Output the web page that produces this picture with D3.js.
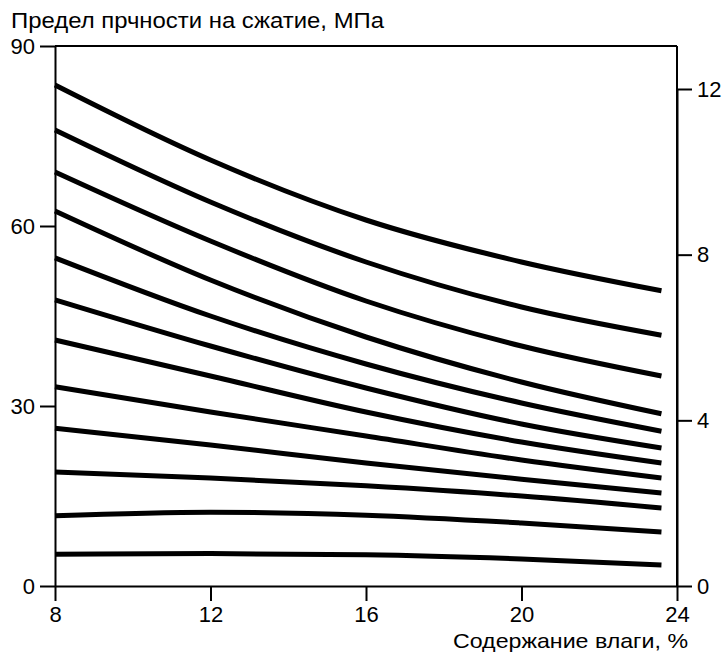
<!DOCTYPE html>
<html><head><meta charset="utf-8">
<script src="https://cdn.jsdelivr.net/npm/d3@7"></script>
<style>body{margin:0;background:#fff}svg{display:block}text{font-family:"Liberation Sans",Arial,sans-serif;fill:#000}</style>
</head><body><svg id="c" width="726" height="654"></svg>
<script>
const moisture = [8, 12, 16, 20, 23.6];
const curve1 = [83.5, 71, 61, 54, 49.2];
const curve2 = [76, 64, 54, 46.5, 41.8];
const curve3 = [69, 57.5, 47.5, 40, 35];
const curve4 = [62.5, 51, 41.5, 34, 28.7];
const curve5 = [54.7, 45, 37, 30.5, 25.8];
const curve6 = [47.7, 40, 33, 27, 23];
const curve7 = [41, 35, 29, 24, 20.5];
const curve8 = [33.2, 29, 25, 21, 18];
const curve9 = [26.3, 23.5, 20.5, 17.8, 15.5];
const curve10 = [19, 18, 16.7, 15, 13];
const curve11 = [11.7, 12.3, 11.8, 10.5, 9];
const curve12 = [5.3, 5.4, 5.2, 4.5, 3.5];
const series = [curve1, curve2, curve3, curve4, curve5, curve6, curve7, curve8, curve9, curve10, curve11, curve12];
const xTicks = [8, 12, 16, 20, 24];
const yTicksLeft = [0, 30, 60, 90];
const yTicksRight = [0, 4, 8, 12];
const titleText = "Предел прчности на сжатие, МПа";
const xLabel = "Содержание влаги, %";

const svg = d3.select("#c");
const x = d3.scaleLinear().domain([8, 24]).range([55, 677]);
const y = d3.scaleLinear().domain([0, 90]).range([586, 46]);
const yR = d3.scaleLinear().domain([0, 12]).range([586, 89]);

const line = d3.line().x((d, i) => x(moisture[i])).y(d => y(d)).curve(d3.curveMonotoneX);
svg.append("g").selectAll("path").data(series).join("path")
  .attr("d", line).attr("fill", "none").attr("stroke", "#000")
  .attr("stroke-width", 5).attr("stroke-linecap", "butt");

// frame top
svg.append("line").attr("x1", x(8)).attr("x2", x(24)).attr("y1", y(90)).attr("y2", y(90))
  .attr("stroke", "#000").attr("stroke-width", 2);

function styleAxis(g) {
  g.selectAll(".domain").attr("stroke", "#000").attr("stroke-width", 2);
  g.selectAll(".tick line").attr("stroke", "#000").attr("stroke-width", 2);
  g.selectAll("text").attr("font-size", 22).attr("font-family", '"Liberation Sans",Arial,sans-serif');
}
svg.append("g").attr("transform", `translate(0,${y(0)})`)
  .call(d3.axisBottom(x).tickValues(xTicks).tickSize(15).tickSizeOuter(0).tickPadding(5))
  .call(styleAxis);
svg.append("g").attr("transform", `translate(${x(8)},0)`)
  .call(d3.axisLeft(y).tickValues(yTicksLeft).tickSize(15).tickSizeOuter(0).tickPadding(5))
  .call(styleAxis);
svg.append("g").attr("transform", `translate(${x(24)},0)`)
  .call(d3.axisRight(yR).tickValues(yTicksRight).tickSize(15).tickSizeOuter(0).tickPadding(5))
  .call(styleAxis);
// right axis line extends to top
svg.append("line").attr("x1", x(24)).attr("x2", x(24)).attr("y1", y(90)).attr("y2", y(0))
  .attr("stroke", "#000").attr("stroke-width", 2);

svg.append("text").attr("x", 11).attr("y", 28).attr("font-size", 22)
  .attr("textLength", 373).attr("lengthAdjust", "spacingAndGlyphs").text(titleText);
svg.append("text").attr("x", 688).attr("y", 648).attr("text-anchor", "end").attr("font-size", 21)
  .attr("textLength", 235).attr("lengthAdjust", "spacingAndGlyphs").text(xLabel);
</script></body></html>
